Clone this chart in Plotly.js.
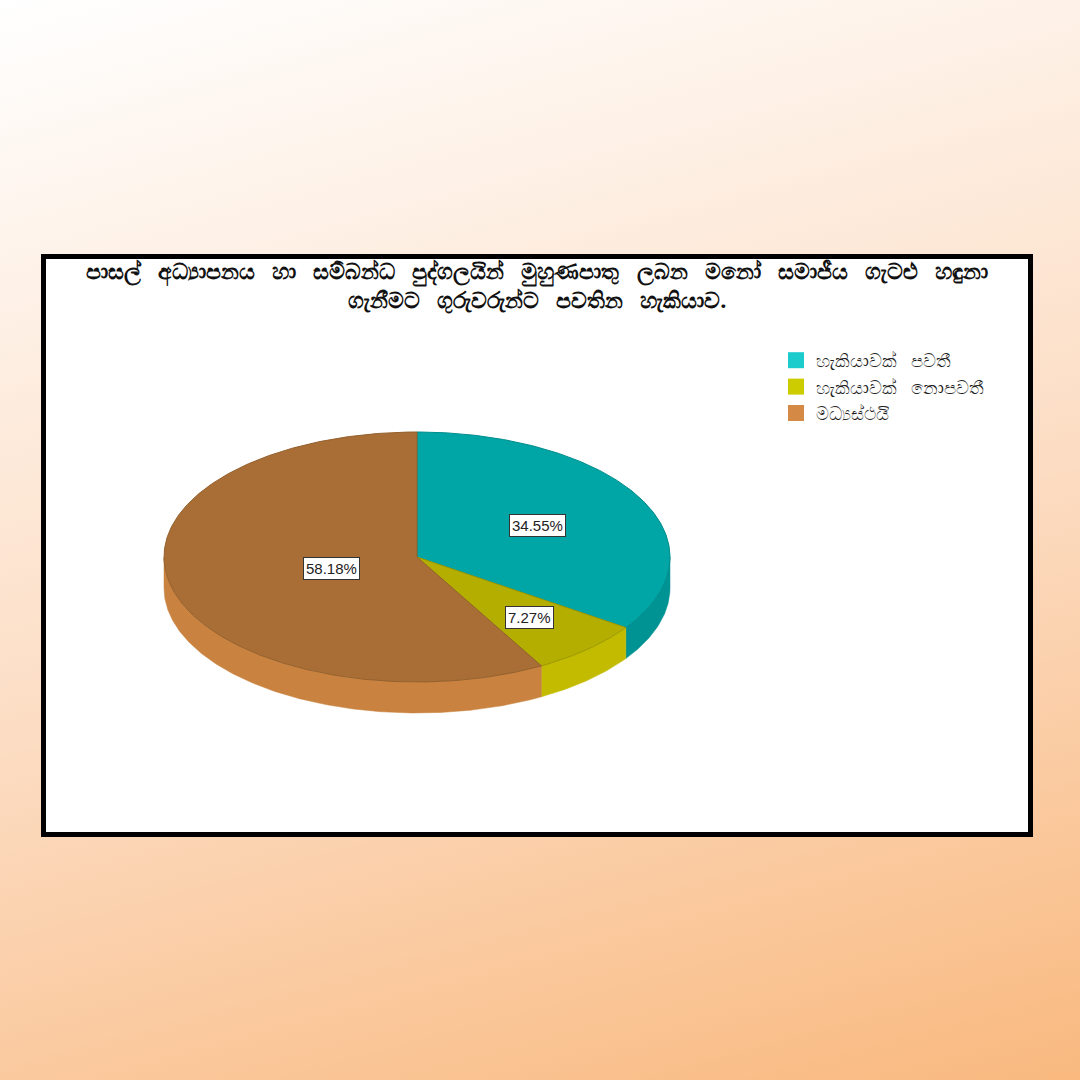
<!DOCTYPE html>
<html>
<head>
<meta charset="utf-8">
<script src="https://cdn.plot.ly/plotly-3.0.1.min.js"></script>
<style>
  html, body { margin: 0; padding: 0; }
  body { width: 1080px; height: 1080px; background: linear-gradient(165deg, #ffffff 0%, #fcdcc2 55%, #f9b97f 100%); }
  #chart { width: 1080px; height: 1080px; }
</style>
</head>
<body>
<div id="chart"></div>
<script>
// ---- data ----
const titleLines = [
  'පාසල් අධ්‍යාපනය හා සම්බන්ධ පුද්ගලයින් මුහුණපාතු ලබන මනෝ සමාජීය ගැටළු හඳුනා',
  'ගැනීමට ගුරුවරුන්ට පවතින හැකියාව.'
];
const categories = ['හැකියාවක් පවතී', 'හැකියාවක් නොපවතී', 'මධ්‍යස්ථයි'];
const percents = [34.55, 7.27, 58.18];
const valueLabels = ['34.55%', '7.27%', '58.18%'];

// ---- style ----
const topColors = ['#00a5a5', '#b3ae00', '#a86e35'];
const sideColors = ['#009393', '#c2bb00', '#c9823f'];
const edgeColors = ['#008c8c', '#9c9800', '#94602c'];
const legendColors = ['#1ccccc', '#cccc00', '#d48a45'];
const labelRadial = [0.54, 0.66, 0.35];
const wide = s => s.split(' ').join(' \u00a0\u00a0');

const CX = 417, CY = 557, A = 253, B = 125, DEPTH = 31;
function pt(th, dy) { return [CX + A * Math.sin(th), CY - B * Math.cos(th) + dy]; }
function arc(s, e, dy) {
  const n = Math.max(2, Math.ceil((e - s) / 0.01));
  const xs = [], ys = [];
  for (let k = 0; k <= n; k++) {
    const p = pt(s + (e - s) * k / n, dy);
    xs.push(p[0]); ys.push(p[1]);
  }
  return [xs, ys];
}

const total = percents.reduce((a, b) => a + b, 0);
const angles = [];
let cum = 0;
percents.forEach(v => { const s = cum / total * 2 * Math.PI; cum += v; angles.push([s, cum / total * 2 * Math.PI]); });

const traces = [];
// side walls (front half only)
angles.forEach(([s, e], i) => {
  const ss = Math.max(s, Math.PI / 2), ee = Math.min(e, 3 * Math.PI / 2);
  if (ee <= ss) return;
  const [tx, ty] = arc(ss, ee, 0);
  const [bx, by] = arc(ss, ee, DEPTH);
  traces.push({
    type: 'scatter', mode: 'lines', fill: 'toself',
    x: tx.concat(bx.slice().reverse()).concat([tx[0]]),
    y: ty.concat(by.slice().reverse()).concat([ty[0]]),
    fillcolor: sideColors[i], line: { width: 0.5, color: sideColors[i] },
    hoverinfo: 'skip', showlegend: false
  });
});
// top faces
angles.forEach(([s, e], i) => {
  const [tx, ty] = arc(s, e, 0);
  traces.push({
    type: 'scatter', mode: 'lines', fill: 'toself',
    x: [CX].concat(tx).concat([CX]),
    y: [CY].concat(ty).concat([CY]),
    fillcolor: topColors[i], line: { width: 1, color: edgeColors[i] },
    hoverinfo: 'skip', showlegend: false
  });
});
// legend entries
categories.forEach((c, i) => {
  traces.push({
    type: 'scatter', mode: 'markers', x: [null], y: [null], name: wide(c),
    marker: { symbol: 'square', size: 16, color: legendColors[i] },
    showlegend: true
  });
});

const annotations = angles.map(([s, e], i) => {
  const m = (s + e) / 2;
  const f = labelRadial[i];
  return {
    x: CX + A * f * Math.sin(m), y: CY - B * f * Math.cos(m),
    xref: 'x', yref: 'y', text: valueLabels[i], showarrow: false,
    font: { family: 'Liberation Sans, Arial, sans-serif', size: 15, color: '#222' },
    bgcolor: '#ffffff', bordercolor: '#333333', borderwidth: 1, borderpad: 2
  };
});

const layout = {
  width: 1080, height: 1080,
  margin: { l: 0, r: 0, t: 0, b: 0 },
  paper_bgcolor: 'rgba(0,0,0,0)', plot_bgcolor: 'rgba(0,0,0,0)',
  xaxis: { range: [0, 1080], visible: false, fixedrange: true },
  yaxis: { range: [1080, 0], visible: false, fixedrange: true },
  title: {
    text: titleLines.map(wide).join('<br>'), x: 537 / 1080, xanchor: 'center', xref: 'paper',
    y: 1 - 279 / 1080, yanchor: 'middle', yref: 'paper',
    font: { family: 'Noto Sans, DejaVu Sans, sans-serif', size: 22, weight: 'bold', color: '#111' }
  },
  showlegend: true,
  legend: {
    x: 776 / 1080, y: 1 - 342 / 1080, xanchor: 'left', yanchor: 'top',
    bgcolor: 'rgba(0,0,0,0)', tracegroupgap: 0,
    font: { family: 'Noto Sans, DejaVu Sans, sans-serif', size: 18, color: '#222' }
  },
  shapes: [{
    type: 'rect', xref: 'paper', yref: 'paper', layer: 'below',
    x0: 43.5 / 1080, x1: 1030.5 / 1080, y0: 1 - 256.5 / 1080, y1: 1 - 834.5 / 1080,
    fillcolor: '#ffffff', line: { color: '#000000', width: 5 }
  }],
  annotations: annotations
};

Plotly.newPlot('chart', traces, layout, { displayModeBar: false, staticPlot: true });
</script>
</body>
</html>
